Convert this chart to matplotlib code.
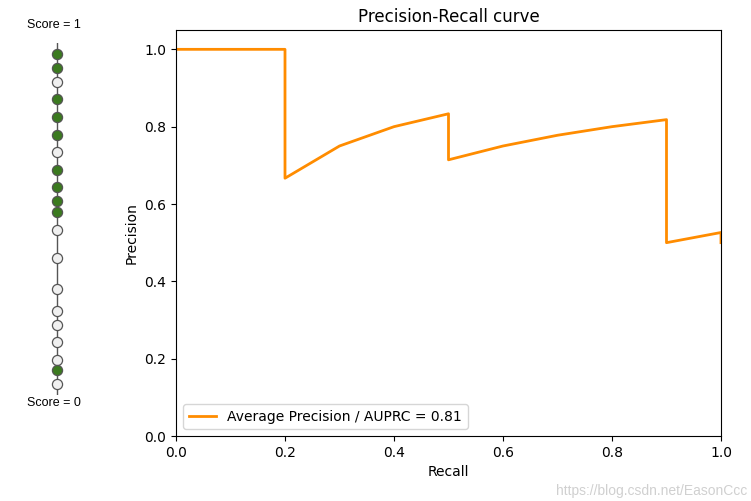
import numpy as np
import matplotlib
matplotlib.use("Agg")
import matplotlib.pyplot as plt

scores = [0.97, 0.93, 0.89, 0.84, 0.79, 0.74, 0.69, 0.64, 0.59, 0.55,
          0.52, 0.47, 0.39, 0.30, 0.24, 0.20, 0.15, 0.10, 0.07, 0.03]
labels = [1, 1, 0, 1, 1, 1, 0, 1, 1, 1,
          1, 0, 0, 0, 0, 0, 0, 0, 1, 0]

scores = np.array(scores)
labels = np.array(labels)

order = np.argsort(-scores)
y_sorted = labels[order]
tp = np.cumsum(y_sorted)
fp = np.cumsum(1 - y_sorted)
precision = np.concatenate([[1.0], tp / (tp + fp)])
recall = np.concatenate([[0.0], tp / labels.sum()])
ap = np.sum((tp / (tp + fp))[y_sorted == 1]) / labels.sum()

fig = plt.figure(figsize=(7.51, 5.01), dpi=100)

# left strip with the scored samples
ax0 = fig.add_axes([57 / 751 - 0.05, (501 - 395) / 501, 0.1, 352 / 501])
ax0.plot([0, 0], [-0.005, 1.03], color="#555555", lw=1, zorder=1)
for s, l in zip(scores, labels):
    ax0.plot(0, s, "o", ms=7.3, mec="#555555", mew=0.9,
             mfc="#3b7a1f" if l == 1 else "#f0f0f0", zorder=2)
ax0.set_xlim(-1, 1)
ax0.set_ylim(0, 1)
ax0.axis("off")
fig.text(54 / 751, 1 - 25 / 501, "Score = 1", ha="center", va="center",
         fontsize=9, family="Liberation Sans")
fig.text(54 / 751, 1 - 403 / 501, "Score = 0", ha="center", va="center",
         fontsize=9, family="Liberation Sans")

# precision-recall curve
ax = fig.add_axes([176 / 751, (501 - 436) / 501, 545 / 751, 406 / 501])
ax.plot(recall, precision, color="darkorange", lw=2,
        label="Average Precision / AUPRC = %0.2f" % ap)
ax.set_xlim(0.0, 1.0)
ax.set_ylim(0.0, 1.05)
ax.set_xlabel("Recall")
ax.set_ylabel("Precision")
ax.set_title("Precision-Recall curve")
ax.legend(loc="lower left")

fig.text(0.995, 0.005, "https://blog.csdn.net/EasonCcc", ha="right", va="bottom",
         fontsize=10, color="#d0d0d0", family="Liberation Sans")

fig.savefig("out.png", dpi=100)
